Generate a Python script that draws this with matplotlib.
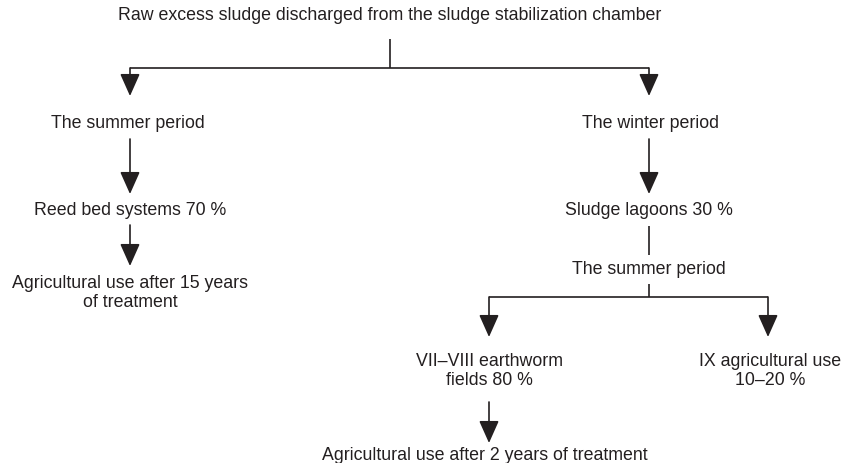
import matplotlib.pyplot as plt

plt.rcParams.update({'font.family': ['Liberation Sans', 'DejaVu Sans']})

top_label = "Raw excess sludge discharged from the sludge stabilization chamber"
season_labels = ["The summer period", "The winter period"]
left_labels = ["Reed bed systems 70 %", "Agricultural use after 15 years\nof treatment"]
right_labels = ["Sludge lagoons 30 %", "The summer period"]
branch_labels = ["VII\u2013VIII earthworm\nfields 80 %", "IX agricultural use\n10\u201320 %"]
final_label = "Agricultural use after 2 years of treatment"

fig = plt.figure(figsize=(8.43, 4.64), dpi=100)
ax = fig.add_axes([0, 0, 1, 1])
ax.set_xlim(0, 843)
ax.set_ylim(464, 0)
ax.axis('off')

FS = 12.8
LW = 1.2
INK = '#231f20'
AST = "-|>,head_length=0.92,head_width=0.41"


def txt(x, y, s):
  ax.text(x, y, s, ha='center', va='center', fontsize=FS, color=INK, linespacing=1.15)


def line(xs, ys):
  ax.plot(xs, ys, color=INK, lw=LW, solid_capstyle='butt')


def arrow(x, y0, y1):
  ax.annotate("", xy=(x, y1), xytext=(x, y0),
              arrowprops=dict(arrowstyle=AST, color=INK, lw=LW,
                              mutation_scale=15, shrinkA=0, shrinkB=0))


# top split
txt(390, 16, top_label)
line([390, 390], [40, 69])
line([130, 649], [69, 69])
arrow(130, 69, 97)
arrow(649, 69, 97)
txt(128, 123, season_labels[0])
txt(651, 123, season_labels[1])

# summer branch
arrow(130, 140, 195)
txt(130, 211, left_labels[0])
arrow(130, 226, 267)
txt(130, 293, left_labels[1])

# winter branch
arrow(649, 140, 195)
txt(649, 211, right_labels[0])
line([649, 649], [227, 256])
txt(649, 270, right_labels[1])
line([649, 649], [285, 298])
line([489, 768], [298, 298])
arrow(489, 298, 338)
arrow(768, 298, 338)
txt(489, 371, branch_labels[0])
txt(770, 371, branch_labels[1])
arrow(489, 403, 444)
txt(485, 456, final_label)

plt.savefig("out.png", dpi=100)
